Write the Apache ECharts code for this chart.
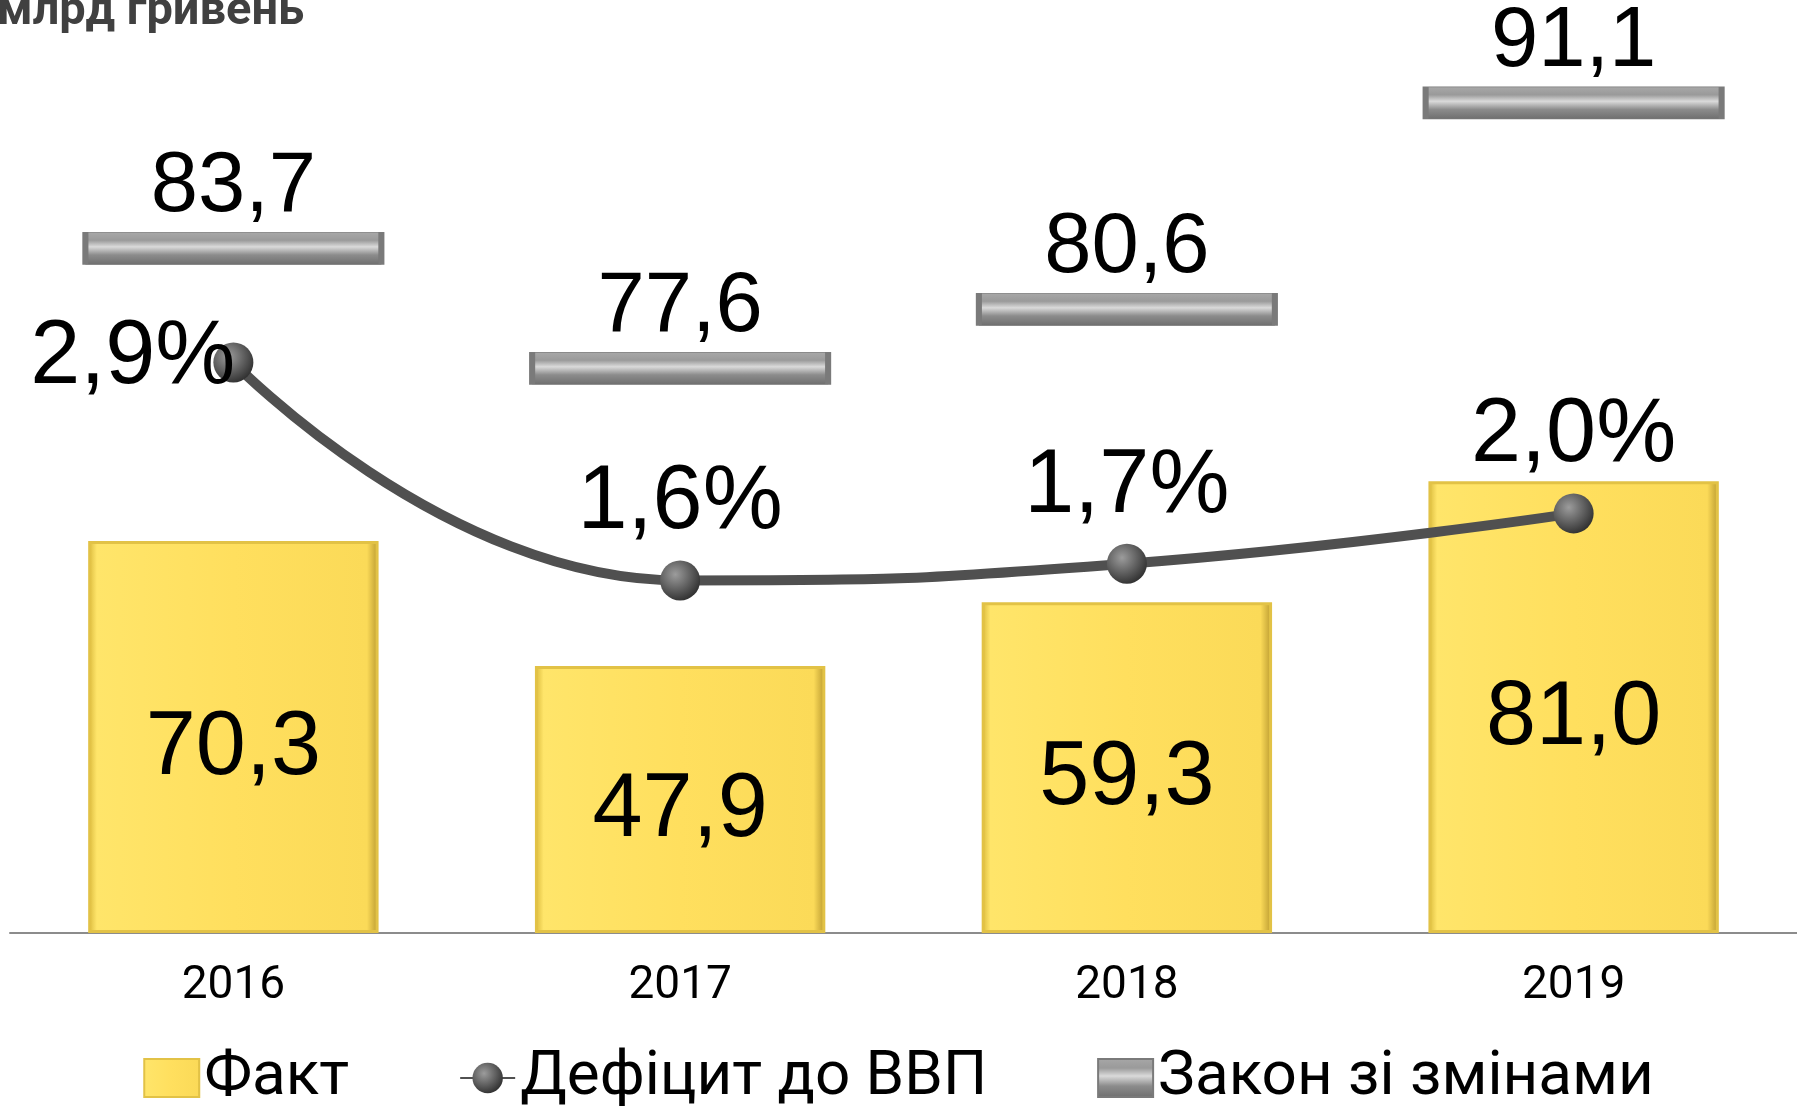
<!DOCTYPE html>
<html>
<head>
<meta charset="utf-8">
<script src="https://cdn.jsdelivr.net/npm/echarts@6/dist/echarts.min.js"></script>
<style>
  html, body { margin: 0; padding: 0; background: #fff; }
  #chart { width: 1797px; height: 1117px; }
</style>
</head>
<body>
<div id="chart"></div>
<script>
// дані
const years = ['2016', '2017', '2018', '2019'];
const fact = [70.3, 47.9, 59.3, 81.0];        // Факт, млрд грн
const deficit = [2.9, 1.6, 1.7, 2.0];         // Дефіцит до ВВП, %
const law = [83.7, 77.6, 80.6, 91.1];         // Закон зі змінами, млрд грн

const fmt = v => v.toFixed(1).replace('.', ',');

const chart = echarts.init(document.getElementById('chart'));

// жовта «опукла» заливка стовпчиків
const barFill = new echarts.graphic.LinearGradient(0, 0, 1, 0, [
  { offset: 0, color: '#D9B83A' },
  { offset: 0.03, color: '#FFE56A' },
  { offset: 0.5, color: '#FFDF5E' },
  { offset: 0.96, color: '#FBDA58' },
  { offset: 1, color: '#B8982E' }
]);
// сіра планка для закону
const lawFill = new echarts.graphic.LinearGradient(0, 0, 0, 1, [
  { offset: 0, color: '#A8A8A8' },
  { offset: 0.25, color: '#9A9A9A' },
  { offset: 0.45, color: '#DADADA' },
  { offset: 0.7, color: '#8C8C8C' },
  { offset: 1, color: '#6E6E6E' }
]);
const dotFill = new echarts.graphic.RadialGradient(0.38, 0.35, 0.7, [
  { offset: 0, color: '#9C9C9C' },
  { offset: 1, color: '#2E2E2E' }
]);

const option = {
  animation: false,
  backgroundColor: '#fff',
  graphic: [{
    type: 'text',
    left: -3,
    top: -11,
    style: {
      text: 'млрд гривень',
      font: 'bold 47px Roboto',
      fill: '#404040'
    }
  }],
  legend: {
    top: 1042,
    left: 'center',
    itemWidth: 55,
    itemHeight: 38,
    itemGap: 110,
    textStyle: {
      fontFamily: 'Roboto',
      fontSize: 62,
      color: '#000'
    },
    data: [
      { name: 'Факт', icon: 'rect' },
      { name: 'Дефіцит до ВВП' },
      { name: 'Закон зі змінами', icon: 'rect' }
    ]
  },
  grid: { left: 10, width: 1792, top: 100, height: 833, containLabel: false },
  xAxis: {
    type: 'category',
    data: years,
    axisLine: { lineStyle: { color: '#8C8C8C', width: 2 } },
    axisTick: { show: false },
    axisLabel: {
      margin: 30,
      fontFamily: 'Roboto',
      fontSize: 46,
      color: '#000'
    }
  },
  yAxis: [
    { type: 'value', min: 0, max: 149.4, show: false, splitLine: { show: false } },
    { type: 'value', min: -0.502, max: 4.465, show: false, splitLine: { show: false } },
    { type: 'value', min: 48.88, max: 91.25, show: false, splitLine: { show: false } }
  ],
  series: [
    {
      name: 'Факт',
      type: 'bar',
      data: fact,
      barWidth: '65%',
      itemStyle: { color: barFill, borderColor: '#E2C246', borderWidth: 3 },
      label: {
        show: true,
        position: 'inside',
        offset: [0, 12],
        formatter: p => fmt(p.value),
        fontFamily: 'Liberation Sans',
        fontSize: 90,
        color: '#000'
      },
      z: 2
    },
    {
      name: 'Дефіцит до ВВП',
      type: 'line',
      yAxisIndex: 1,
      data: deficit.map((v, i) => i === 0
        ? { value: v, label: { position: 'left', distance: -22, offset: [0, -4] } }
        : v),
      smooth: true,
      symbol: 'circle',
      symbolSize: 40,
      lineStyle: { color: '#505050', width: 10 },
      itemStyle: { color: dotFill },
      label: {
        show: true,
        position: 'top',
        distance: 12,
        formatter: p => fmt(p.value) + '%',
        fontFamily: 'Liberation Sans',
        fontSize: 90,
        color: '#000'
      },
      z: 4
    },
    {
      name: 'Закон зі змінами',
      type: 'scatter',
      yAxisIndex: 2,
      data: law,
      symbol: 'rect',
      symbolSize: [296, 32],
      itemStyle: { color: lawFill, borderColor: '#7A7A7A', borderWidth: 2, opacity: 1 },
      label: {
        show: true,
        position: 'top',
        distance: 2,
        formatter: p => fmt(p.value),
        fontFamily: 'Liberation Sans',
        fontSize: 85,
        color: '#000'
      },
      z: 3
    }
  ]
};

chart.setOption(option);
</script>
</body>
</html>
